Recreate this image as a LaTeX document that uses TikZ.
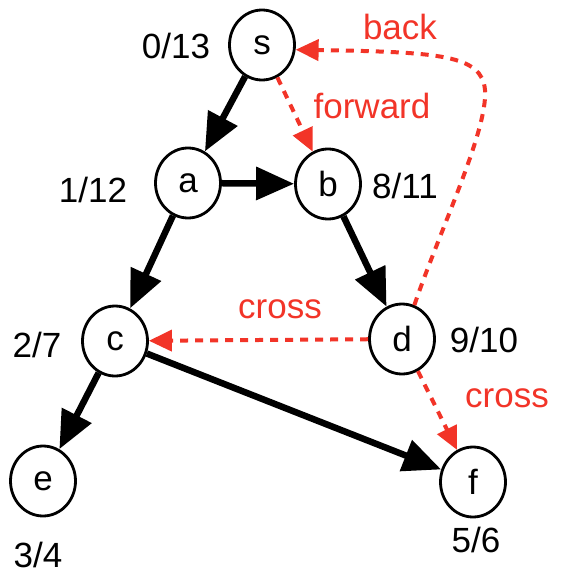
\documentclass[tikz,border=0pt]{standalone}
\usepackage{fontspec}
\setmainfont{Liberation Sans}
\usetikzlibrary{arrows.meta}
\usetikzlibrary{shapes.geometric}
\definecolor{EdgeRed}{HTML}{F23428}

\begin{document}
\begin{tikzpicture}[x=1pt, y=-1pt,
  every node/.style={font=\fontsize{35}{40}\selectfont},
  vertex/.style={draw,ellipse,line width=2.8pt,minimum width=65pt,minimum height=70pt,inner sep=0pt},
  stamp/.style={anchor=base},
  tree/.style={line width=6.5pt,-{Triangle[length=38pt,width=32pt]}},
  other/.style={EdgeRed,line width=4pt,dash pattern=on 8pt off 7pt,-{Triangle[length=23pt,width=21pt]}},
  kind/.style={EdgeRed,anchor=base}]
  \useasboundingbox (0,0) rectangle (566,578);

  \foreach \n/\x/\y in {s/262/45,a/188/183,b/328/184,c/115/341,d/402/339,e/43/481,f/473/482}{%
    \node[vertex] (\n) at (\x,\y) {\n};
  }

  % discovery/finish times
  \foreach \n/\t/\x/\y in {s/0\slash13/176/59,a/1\slash12/93/202,b/8\slash11/405/198,
    c/2\slash7/37/357,d/9\slash10/484/352,e/3\slash4/38/567,f/5\slash6/476/552}{%
    \node[stamp] (l\n) at (\x,\y) {\t};
  }

  \foreach \u/\v in {s/a,a/b,a/c,b/d,c/e,c/f}{%
    \draw[tree] (\u) -- (\v);
  }

  \draw[other] (s) -- (b);
  \draw[other] (d) -- (c);
  \draw[other] (d) -- (f);
  \draw[other] (d.70) .. controls (440,230) and (488,130) .. (485,90)
    .. controls (482,55) and (440,52) .. (s.-8);

  \node[kind] (kback) at (400,40) {back};
  \node[kind] (kforward) at (372,118) {forward};
  \node[kind] (kcrossc) at (280,318) {cross};
  \node[kind] (kcrossf) at (507,407) {cross};
\end{tikzpicture}
\end{document}
